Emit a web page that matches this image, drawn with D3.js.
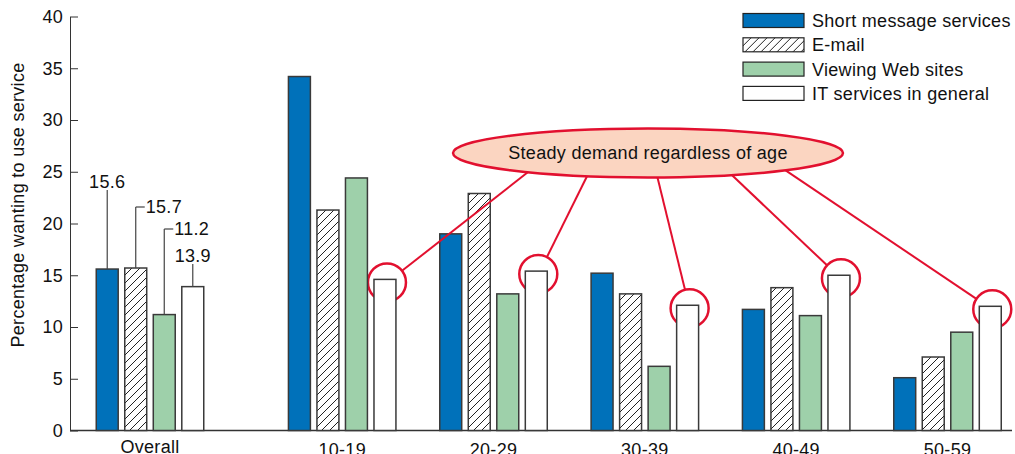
<!DOCTYPE html>
<html>
<head>
<meta charset="utf-8">
<script src="https://cdn.jsdelivr.net/npm/d3@7"></script>
<style>
  body { margin: 0; background: #fff; }
  svg { display: block; font-family: "Liberation Sans", Arial, sans-serif; letter-spacing: 0.3px; }
  .axis text { font-size: 18px; fill: #111; }
  .axis path, .axis line { stroke: #333; }
</style>
</head>
<body>
<div class="chart"></div>
<script>
// Data
const groups = ["Overall", "10-19", "20-29", "30-39", "40-49", "50-59"];
const services = ["Short message services", "E-mail", "Viewing Web sites", "IT services in general"];
const smsValues = [15.6, 34.2, 19.0, 15.2, 11.7, 5.1];
const emailValues = [15.7, 21.3, 22.9, 13.2, 13.8, 7.1];
const webValues = [11.2, 24.4, 13.2, 6.2, 11.1, 9.5];
const itValues = [13.9, 14.6, 15.4, 12.1, 15.0, 12.0];
const yTicks = [0, 5, 10, 15, 20, 25, 30, 35, 40];
const yLabel = "Percentage wanting to use service";
const calloutText = "Steady demand regardless of age";
const calloutGroups = ["10-19", "20-29", "30-39", "40-49", "50-59"];

const width = 1015, height = 454;
const fontSize = 18;
const seriesValues = [smsValues, emailValues, webValues, itValues];

// rows for every bar
const rows = [];
groups.forEach((g, gi) => {
  services.forEach((s, si) => {
    rows.push({ group: g, gi: gi, service: s, value: seriesValues[si][gi] });
  });
});

const svg = d3.select(".chart").append("svg")
  .attr("width", width)
  .attr("height", height);

// hatch for e-mail
const defs = svg.append("defs");
const hatch = defs.append("pattern")
  .attr("id", "hatch")
  .attr("patternUnits", "userSpaceOnUse")
  .attr("width", 8)
  .attr("height", 8);
hatch.append("rect").attr("width", 8).attr("height", 8).attr("fill", "#fff");
hatch.append("path")
  .attr("d", "M0,8 L8,0 M-2,2 L2,-2 M6,10 L10,6")
  .attr("stroke", "#222")
  .attr("stroke-width", 1);

const fills = {
  "Short message services": "#0071ba",
  "E-mail": "url(#hatch)",
  "Viewing Web sites": "#9ed0aa",
  "IT services in general": "#ffffff"
};

// Overall sits a bit further from the age groups
const slot = i => (i === 0 ? 0 : i + 0.27);
const xGroup = d3.scaleLinear().domain([0, slot(5)]).range([150, 947.5]);
const xInner = d3.scaleBand().domain(services).range([-53.75, 53.75]).paddingInner(0.23);
const y = d3.scaleLinear().domain([0, 40]).range([430.5, 16.5]);
const barX = d => xGroup(slot(d.gi)) + xInner(d.service);
const barMid = d => barX(d) + xInner.bandwidth() / 2;

// y axis
svg.append("g")
  .attr("class", "axis y-axis")
  .attr("transform", "translate(70,0)")
  .call(d3.axisLeft(y).tickValues(yTicks).tickSize(-8).tickSizeOuter(0).tickPadding(7))
  .call(g => g.selectAll("text").attr("font-family", "Liberation Sans, Arial, sans-serif"));

svg.append("text")
  .attr("transform", "translate(24,205) rotate(-90)")
  .attr("text-anchor", "middle")
  .attr("font-size", fontSize)
  .attr("fill", "#111")
  .text(yLabel);

// x axis: baseline and group names
svg.append("line")
  .attr("x1", 70).attr("x2", 1012)
  .attr("y1", y(0)).attr("y2", y(0))
  .attr("stroke", "#333").attr("stroke-width", 1.5);

svg.append("g").selectAll("text")
  .data(groups)
  .join("text")
  .attr("x", (d, i) => xGroup(slot(i)))
  .attr("y", (d, i) => (i === 0 ? 453 : 456))
  .attr("text-anchor", "middle")
  .attr("font-size", fontSize)
  .attr("fill", "#111")
  .text(d => d);

// red circles behind the IT bars
const red = "#e2102f";
const itRows = rows.filter(d => d.service === services[3] && calloutGroups.includes(d.group));
const circR = 19;
const circCenter = d => [barMid(d) + 2, y(d.value) + 3];

svg.append("g").selectAll("circle")
  .data(itRows)
  .join("circle")
  .attr("cx", d => circCenter(d)[0])
  .attr("cy", d => circCenter(d)[1])
  .attr("r", circR)
  .attr("fill", "none")
  .attr("stroke", red)
  .attr("stroke-width", 2.5);

// bars
svg.append("g").selectAll("rect")
  .data(rows)
  .join("rect")
  .attr("x", barX)
  .attr("y", d => y(d.value))
  .attr("width", xInner.bandwidth())
  .attr("height", d => y(0) - y(d.value))
  .attr("fill", d => fills[d.service])
  .attr("stroke", "#3a3a3a")
  .attr("stroke-width", 1.5);

// value labels for Overall
const overallLabels = [
  { end: 190, side: "top" },
  { end: 207, side: "right" },
  { end: 229, side: "right" },
  { end: 264, side: "top" }
];
const overallRows = rows.filter(d => d.gi === 0);
const lab = svg.append("g");
overallRows.forEach((d, i) => {
  const cfg = overallLabels[i];
  const cx = barMid(d);
  lab.append("line")
    .attr("x1", cx).attr("x2", cx)
    .attr("y1", y(d.value)).attr("y2", cfg.end)
    .attr("stroke", "#444").attr("stroke-width", 1.2);
  if (cfg.side === "top") {
    lab.append("text")
      .attr("x", cx).attr("y", cfg.end - 2)
      .attr("text-anchor", "middle")
      .attr("font-size", fontSize).attr("fill", "#111")
      .text(d.value.toFixed(1));
  } else {
    lab.append("line")
      .attr("x1", cx).attr("x2", cx + 9)
      .attr("y1", cfg.end).attr("y2", cfg.end)
      .attr("stroke", "#444").attr("stroke-width", 1.2);
    lab.append("text")
      .attr("x", cx + 10).attr("y", cfg.end)
      .attr("dy", "0.36em")
      .attr("font-size", fontSize).attr("fill", "#111")
      .text(d.value.toFixed(1));
  }
});

// callout ellipse and connecting lines
const ell = { cx: 648, cy: 153, rx: 195, ry: 24.5 };
const lineStarts = [-118, -60, 9, 82, 135];
itRows.forEach((d, i) => {
  const dx = lineStarts[i];
  const sx = ell.cx + dx;
  const sy = ell.cy + ell.ry * Math.sqrt(1 - (dx / ell.rx) ** 2);
  const [cx, cy] = circCenter(d);
  const len = Math.hypot(sx - cx, sy - cy);
  const ex = cx + (sx - cx) / len * circR;
  const ey = cy + (sy - cy) / len * circR;
  svg.append("line")
    .attr("x1", sx).attr("y1", sy - 2)
    .attr("x2", ex).attr("y2", ey)
    .attr("stroke", red).attr("stroke-width", 2);
});

svg.append("ellipse")
  .attr("cx", ell.cx).attr("cy", ell.cy)
  .attr("rx", ell.rx).attr("ry", ell.ry)
  .attr("fill", "#fbd5c1")
  .attr("stroke", red)
  .attr("stroke-width", 2.5);

svg.append("text")
  .attr("x", ell.cx).attr("y", ell.cy)
  .attr("dy", "0.36em")
  .attr("text-anchor", "middle")
  .attr("font-size", fontSize).attr("fill", "#111")
  .text(calloutText);

// legend
const legend = svg.append("g").attr("transform", "translate(743,13.5)");
const row = legend.selectAll("g")
  .data(services)
  .join("g")
  .attr("transform", (d, i) => `translate(0,${i * 24.3})`);
row.append("rect")
  .attr("width", 61).attr("height", 14)
  .attr("fill", d => fills[d])
  .attr("stroke", "#222").attr("stroke-width", 1.2);
row.append("text")
  .attr("x", 69).attr("y", 7)
  .attr("dy", "0.36em")
  .attr("font-size", fontSize).attr("fill", "#111")
  .text(d => d);
</script>
</body>
</html>
